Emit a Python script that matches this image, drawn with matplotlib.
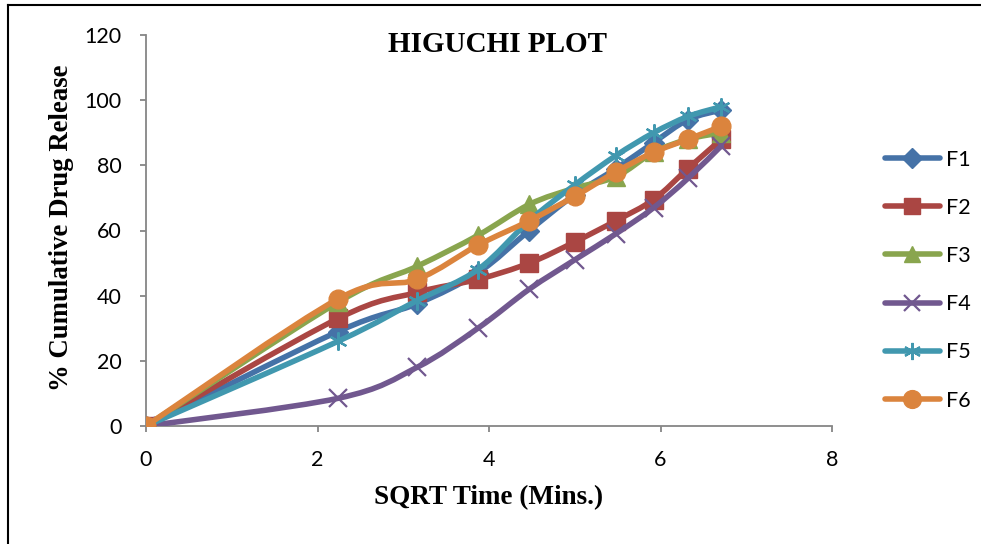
import numpy as np
import matplotlib
matplotlib.use("Agg")
import matplotlib.pyplot as plt
from matplotlib.lines import Line2D
from matplotlib.path import Path
from matplotlib.patches import PathPatch

# ---- data ----
sqrt_time = [0, 2.24, 3.16, 3.87, 4.47, 5.00, 5.48, 5.92, 6.32, 6.71]
series_names = ["F1", "F2", "F3", "F4", "F5", "F6"]
F1 = [0, 29, 37.5, 47, 60, 71, 79, 87, 94, 97]
F2 = [0, 33, 41, 45, 50, 56.5, 63, 69.5, 79, 88]
F3 = [0, 38, 49, 58.5, 68, 73, 76.5, 84, 88, 90]
F4 = [0, 8.5, 18, 30, 42, 51, 59, 67, 76, 86]
F5 = [0, 26, 38.5, 48, 63, 74, 83, 90, 95, 98]
F6 = [0, 39, 45, 55.5, 63, 70.5, 78, 84, 88, 92]
x_ticks = [0, 2, 4, 6, 8]
y_ticks = [0, 20, 40, 60, 80, 100, 120]

colors = ["#4572A7", "#AA4643", "#89A54E", "#71588F", "#4198AF", "#DB843D"]
markers = ["D", "s", "^", "x", (6, 2, 0), "o"]
msizes = [10.5, 12.5, 12.5, 12.5, 13, 13.5]

fig = plt.figure(figsize=(9.81, 5.44), dpi=100)
ax = fig.add_axes([146 / 981, 1 - 426 / 544, (832 - 146) / 981, (426 - 35) / 544])

def smooth_path(x, y):
    x = np.asarray(x, float); y = np.asarray(y, float)
    n = len(x)
    verts = [(x[0], y[0])]
    codes = [Path.MOVETO]
    for i in range(n - 1):
        p0 = np.array([x[max(i - 1, 0)], y[max(i - 1, 0)]])
        p1 = np.array([x[i], y[i]])
        p2 = np.array([x[i + 1], y[i + 1]])
        p3 = np.array([x[min(i + 2, n - 1)], y[min(i + 2, n - 1)]])
        c1 = p1 + (p2 - p0) / 6.0
        c2 = p2 - (p3 - p1) / 6.0
        verts += [tuple(c1), tuple(c2), tuple(p2)]
        codes += [Path.CURVE4] * 3
    return Path(verts, codes)

all_series = [F1, F2, F3, F4, F5, F6]
handles = []
for i, (name, ys) in enumerate(zip(series_names, all_series)):
    patch = PathPatch(smooth_path(sqrt_time, ys), facecolor="none", edgecolor=colors[i],
                      lw=4, capstyle="round", joinstyle="round", zorder=2 + i)
    ax.add_patch(patch)
    mk = markers[i]
    thin = (mk == "x") or isinstance(mk, tuple)
    if thin:
        ax.plot(sqrt_time, ys, linestyle="none", marker=mk, markersize=msizes[i],
                markeredgecolor=colors[i], markeredgewidth=1.6, zorder=2 + i)
    else:
        ax.plot(sqrt_time, ys, linestyle="none", marker=mk, markersize=msizes[i],
                markerfacecolor=colors[i], markeredgecolor=colors[i], zorder=2 + i)
    h = Line2D([], [], color=colors[i], lw=4, marker=mk, markersize=msizes[i] * 0.95,
               markerfacecolor=colors[i], markeredgecolor=colors[i],
               markeredgewidth=1.6 if thin else 1.0,
               solid_capstyle="round")
    handles.append(h)

ax.set_xlim(0, 8)
ax.set_ylim(0, 120)
ax.set_xticks(x_ticks)
ax.set_yticks(y_ticks)
ax.set_xticklabels([str(v) for v in x_ticks])
ax.set_yticklabels([str(v) for v in y_ticks])

for s in ["top", "right"]:
    ax.spines[s].set_visible(False)
for s in ["left", "bottom"]:
    ax.spines[s].set_color("#868686")
    ax.spines[s].set_linewidth(1.3)
ax.tick_params(axis="both", direction="out", length=4.5, width=1.3, color="#868686",
               labelsize=15.5, pad=13)
for lab in ax.get_xticklabels() + ax.get_yticklabels():
    lab.set_fontfamily("Lato")
ax.patch.set_alpha(0)

serif = "Liberation Serif"
fig.text(498 / 981, 1 - 44 / 544, "HIGUCHI PLOT", ha="center", va="center",
         fontsize=21, fontweight="bold", family=serif)
fig.text(489 / 981, 1 - 498 / 544, "SQRT Time (Mins.)", ha="center", va="center",
         fontsize=19.5, fontweight="bold", family=serif)
fig.text(62 / 981, 1 - 228 / 544, "% Cumulative Drug Release", ha="center", va="center",
         rotation=90, fontsize=19.3, fontweight="bold", family=serif)

leg = fig.legend(handles, series_names, loc="upper left",
                 bbox_to_anchor=(876 / 981, 1 - 141 / 544), frameon=False,
                 prop={"family": "Lato", "size": 15.5}, handlelength=2.55,
                 handletextpad=0.3, labelspacing=1.31, borderaxespad=0)

# outer frame (top and left edges visible in reference)
fig.add_artist(Line2D([8 / 981, 8 / 981], [0, 1 - 5 / 544], color="black", lw=1.5,
                      transform=fig.transFigure))
fig.add_artist(Line2D([8 / 981, 1], [1 - 5 / 544, 1 - 5 / 544], color="black", lw=1.5,
                      transform=fig.transFigure))

fig.savefig("out.png", dpi=100)
